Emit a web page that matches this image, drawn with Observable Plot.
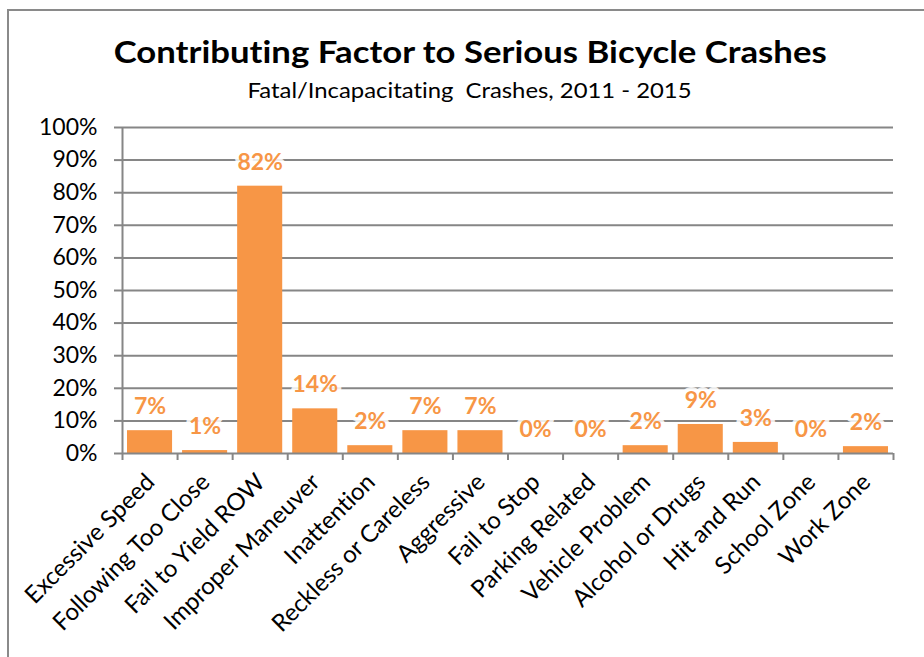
<!DOCTYPE html>
<html>
<head>
<meta charset="utf-8">
<script src="https://cdn.jsdelivr.net/npm/d3@7"></script>
<script src="https://cdn.jsdelivr.net/npm/@observablehq/plot@0.6"></script>
<style>
  html, body { margin: 0; padding: 0; background: #fff; }
  body { width: 924px; height: 657px; position: relative; overflow: hidden; font-family: Lato, "Open Sans", sans-serif; font-variant-ligatures: none; }
  #frame { position: absolute; left: 7px; top: 9px; width: 1000px; height: 1000px; border-left: 2px solid #8a8a8a; border-top: 2px solid #8a8a8a; }
  .ttl { position: absolute; left: 0; width: 940px; text-align: center; white-space: nowrap; color: #000; line-height: 1; }
  .ttl span { display: inline-block; transform-origin: center center; }
  #title { top: 36px; font-size: 31px; font-weight: bold; }
  #subtitle { top: 79px; font-size: 21px; }
  #chart { position: absolute; left: 0; top: 0; }
  svg text { font-variant-ligatures: none; }
</style>
</head>
<body>
<div id="frame"></div>
<div id="title" class="ttl"><span>Contributing Factor to Serious Bicycle Crashes</span></div>
<div id="subtitle" class="ttl"><span>Fatal/Incapacitating&nbsp; Crashes, 2011 - 2015</span></div>
<div id="chart"></div>
<script>
// ---- data ----
const categories = [
  "Excessive Speed", "Following Too Close", "Fail to Yield ROW", "Improper Maneuver",
  "Inattention", "Reckless or Careless", "Aggressive", "Fail to Stop",
  "Parking Related", "Vehicle Problem", "Alcohol or Drugs", "Hit and Run",
  "School Zone", "Work Zone"
];
const shares = [7.0, 0.9, 82.0, 13.7, 2.4, 7.0, 7.0, 0, 0, 2.4, 8.9, 3.4, 0, 2.1];
const yTicks = [0, 10, 20, 30, 40, 50, 60, 70, 80, 90, 100];

const data = categories.map((c, i) => ({i, category: c, value: shares[i]}));
const boundaries = d3.range(categories.length + 1);
const gridGray = "#868686";
const orange = "#F79646";

const chart = Plot.plot({
  width: 924,
  height: 657,
  marginTop: 127,
  marginBottom: 204,
  marginLeft: 122,
  marginRight: 31,
  style: {fontFamily: "Lato, 'Open Sans', sans-serif", background: "transparent", color: "#000"},
  x: {type: "linear", domain: [0, categories.length], axis: null, label: null},
  y: {domain: [0, 100], axis: null, label: null},
  marks: [
    Plot.gridY(yTicks.filter(d => d > 0), {stroke: gridGray, strokeOpacity: 1, strokeWidth: 2}),
    Plot.axisY(yTicks, {tickSize: 8, tickPadding: 17, tickFormat: d => d + "%", fontSize: 23, stroke: gridGray, strokeWidth: 2, fill: "#000", label: null}),
    Plot.ruleX([0], {stroke: gridGray, strokeWidth: 2}),
    Plot.rectY(data, {x1: "i", x2: d => d.i + 1, y: "value", fill: orange, insetLeft: 5, insetRight: 5}),
    Plot.ruleY([0], {stroke: gridGray, strokeWidth: 2}),
    Plot.axisX(boundaries, {tickSize: 7, tickFormat: () => "", stroke: gridGray, strokeWidth: 2, label: null}),
    Plot.text(data, {
      x: d => d.i + 0.5, y: "value", text: d => Math.round(d.value) + "%",
      dy: -24, fill: orange, fontWeight: "bold", fontSize: 23,
      stroke: "white", strokeWidth: 8, strokeOpacity: 0.85
    }),
    Plot.text(data, {
      x: d => d.i + 0.5, y: 0, text: "category", rotate: -45,
      textAnchor: "end", lineAnchor: "top", dx: -6, dy: 18, fontSize: 24, fill: "#000"
    })
  ]
});
document.getElementById("chart").append(chart);

// fit title widths to the reference
function fit(id, target) {
  const s = document.querySelector("#" + id + " span");
  const w = s.getBoundingClientRect().width;
  s.style.transform = "scaleX(" + (target / w) + ")";
}
fit("title", 713);
fit("subtitle", 444);
</script>
</body>
</html>
